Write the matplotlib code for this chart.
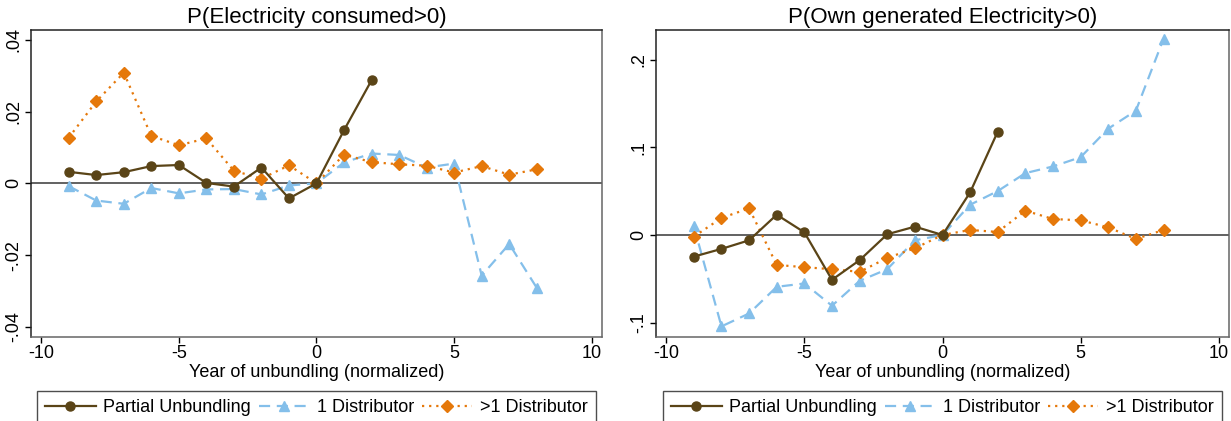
import matplotlib
matplotlib.use("Agg")
import matplotlib.pyplot as plt

plt.rcParams["font.family"] = ["Liberation Sans", "DejaVu Sans"]

# ── data ─────────────────────────────────────────────────────────────
years_partial = [-9, -8, -7, -6, -5, -4, -3, -2, -1, 0, 1, 2]
years_dist = [-9, -8, -7, -6, -5, -4, -3, -2, -1, 0, 1, 2, 3, 4, 5, 6, 7, 8]

cons_partial = [0.0032, 0.0023, 0.0031, 0.0048, 0.0051, 0.0001, -0.0009, 0.0044,
                -0.0042, 0.0, 0.0148, 0.0287]
cons_one = [-0.0008, -0.0048, -0.0057, -0.0013, -0.0028, -0.0017, -0.0016, -0.0031,
            -0.0006, 0.0, 0.0058, 0.0083, 0.0079, 0.0044, 0.0055, -0.0257, -0.0169, -0.0291]
cons_multi = [0.0127, 0.0228, 0.0308, 0.0132, 0.0106, 0.0125, 0.0035, 0.0013, 0.0050,
              0.0, 0.0080, 0.0059, 0.0053, 0.0049, 0.0030, 0.0048, 0.0024, 0.0039]

own_partial = [-0.0247, -0.0159, -0.0061, 0.0231, 0.0030, -0.0512, -0.0288, 0.0008,
               0.0095, 0.0, 0.0486, 0.1180]
own_one = [0.0099, -0.1044, -0.0896, -0.0592, -0.0554, -0.0808, -0.0524, -0.0391,
           -0.0061, 0.0, 0.0345, 0.0501, 0.0706, 0.0782, 0.0888, 0.1214, 0.1419, 0.2239]
own_multi = [-0.0019, 0.0194, 0.0304, -0.0342, -0.0368, -0.0391, -0.0421, -0.0262,
             -0.0152, 0.0, 0.0057, 0.0034, 0.0277, 0.0182, 0.0167, 0.0087, -0.0046, 0.0057]

xticks = [-10, -5, 0, 5, 10]
cons_yticks = [-0.04, -0.02, 0, 0.02, 0.04]
cons_ylabels = ["-.04", "-.02", "0", ".02", ".04"]
own_yticks = [-0.1, 0, 0.1, 0.2]
own_ylabels = ["-.1", "0", ".1", ".2"]

COLORS = {
    "partial": "#5a4417",
    "one":     "#84bfea",
    "multi":   "#e5780a",
    "zero":    "#555555",
}

fig = plt.figure(figsize=(12.31, 4.21), dpi=100)
W, H = 1231, 421
FS = 13


def panel(x0, x1, title, partial, one, multi, yticks, ylabels, ylim, leg_x):
    ax = fig.add_axes([x0 / W, 1 - 337 / H, (x1 - x0) / W, (337 - 30) / H])
    ax.axhline(0, color=COLORS["zero"], linewidth=1.3, zorder=1)
    ax.plot(years_partial, partial, color=COLORS["partial"], linewidth=1.6,
            marker="o", markersize=6.5, label="Partial Unbundling", zorder=4)
    ax.plot(years_dist, one, color=COLORS["one"], linewidth=1.6, dashes=(5, 3),
            marker="^", markersize=7.5, label="1 Distributor", zorder=3)
    ax.plot(years_dist, multi, color=COLORS["multi"], linewidth=1.6, dashes=(1, 2.2),
            marker="D", markersize=6.5, label=">1 Distributor", zorder=3)

    ax.set_xlim(-10.37, 10.37)
    ax.set_ylim(*ylim)
    ax.set_xticks(xticks)
    ax.set_xticklabels([str(t) for t in xticks], fontsize=FS)
    ax.set_yticks(yticks)
    ax.set_yticklabels(ylabels, fontsize=FS, rotation=90, va="center")
    ax.tick_params(direction="out", length=4, width=1, pad=2)
    ax.set_xlabel("Year of unbundling (normalized)", fontsize=FS, labelpad=1)
    ax.set_title(title, fontsize=16, pad=5)
    for s in ["left", "top"]:
        ax.spines[s].set_color("#222222")
    for s in ["right", "bottom"]:
        ax.spines[s].set_color("#666666")
    for s in ax.spines.values():
        s.set_linewidth(1.1)

    leg = ax.legend(loc="upper left", bbox_to_anchor=(leg_x / W, 1 - 391 / H),
                    bbox_transform=fig.transFigure, borderaxespad=0, ncol=3,
                    fontsize=FS, fancybox=False, frameon=True, edgecolor="#222222",
                    handlelength=2.8, handletextpad=0.4, columnspacing=0.45,
                    borderpad=0.45)
    leg.get_frame().set_linewidth(1.0)
    return ax


panel(31, 602, "P(Electricity consumed>0)", cons_partial, cons_one, cons_multi,
      cons_yticks, cons_ylabels, (-0.0428, 0.0427), 37)
panel(656, 1229, "P(Own generated Electricity>0)", own_partial, own_one, own_multi,
      own_yticks, own_ylabels, (-0.1165, 0.234), 663)

fig.savefig("out.png", dpi=100, facecolor="white")
plt.close(fig)
